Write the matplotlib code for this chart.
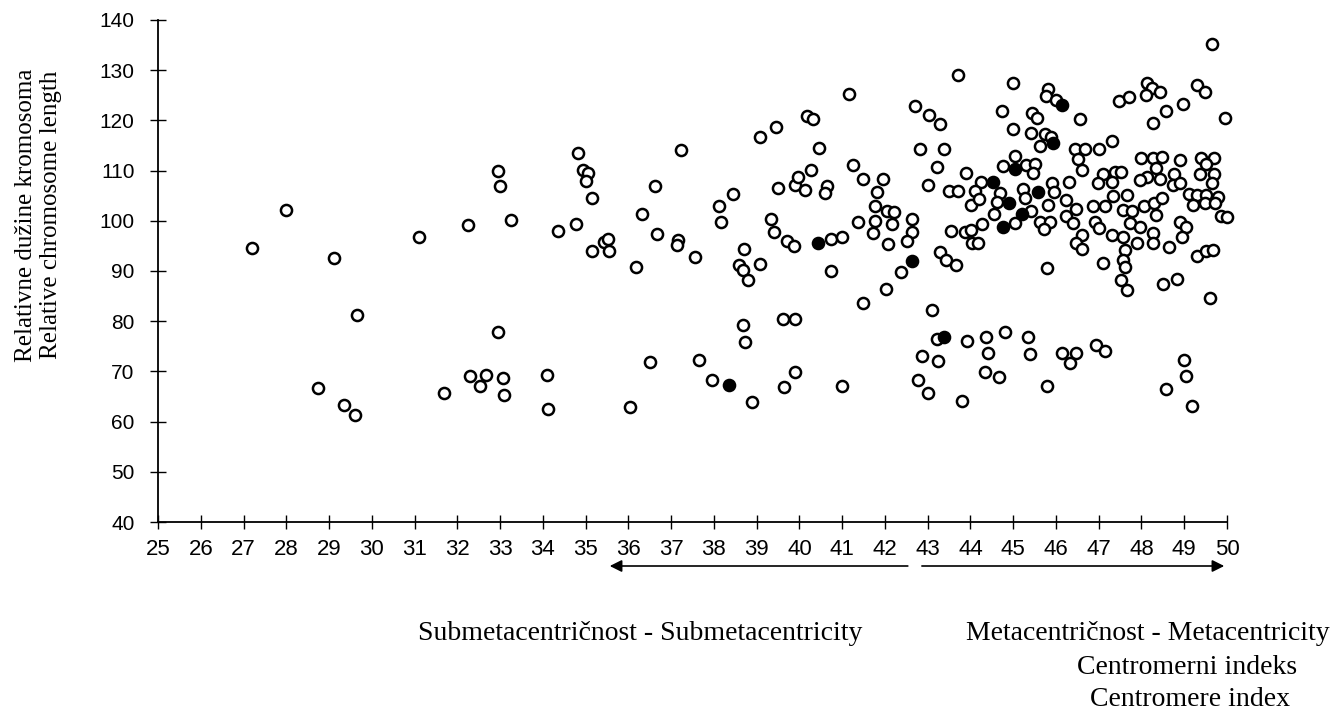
import matplotlib
matplotlib.use("Agg")
import matplotlib.pyplot as plt

# Centromere index (x) and relative chromosome length (y), open circles
open_x = [
    27.19, 28.0, 29.12, 29.65, 31.1, 32.26, 32.94, 33.0, 32.96,
    28.74, 29.35, 29.61, 31.7, 32.29, 32.68, 32.52, 33.06, 33.08, 34.1, 34.12, 36.03,
    34.83, 34.95, 35.06, 35.02, 35.14, 37.23, 36.62, 39.08, 39.45, 38.44, 39.49, 39.9, 39.97,
    33.25, 34.36, 34.78, 35.43, 35.53, 35.16, 35.55, 36.33, 36.19, 36.67, 37.17, 37.14, 37.57,
    38.12, 38.17, 38.71, 38.59, 38.69, 38.8, 39.08, 39.33, 39.41, 39.7, 39.87,
    38.69, 38.72, 39.62, 39.89, 36.5, 37.66, 37.96, 38.88, 39.64, 39.89, 41.0,
    43.72, 41.17, 42.71, 43.04, 43.29, 40.17, 40.31, 44.74, 40.46, 42.81, 43.37, 41.26, 43.21,
    43.9, 40.27, 40.13, 40.65, 40.6, 41.48, 41.95, 41.81, 43.01, 43.51, 43.72, 44.24, 44.11, 44.68,
    41.77, 41.38, 41.77, 41.73, 42.06, 42.21, 42.16, 42.08, 42.64, 42.64, 42.51, 40.75, 41.0,
    40.75, 42.38, 42.03, 41.48, 43.55, 43.87, 44.01, 44.03, 44.18, 44.28, 44.01, 44.21, 44.63,
    44.54, 43.29, 43.44, 43.67, 43.11, 43.21, 42.86, 43.25, 43.93, 44.36, 44.42, 44.81,
    42.78, 43.0, 43.81, 44.33, 44.66,
    49.66, 45.0, 45.82, 45.76, 46.01, 47.48, 47.71, 48.12, 48.24, 48.1, 48.44, 49.29, 49.48,
    48.97, 48.58, 48.27, 49.96, 45.45, 45.55, 46.57, 45.0, 45.41, 45.74, 45.88, 45.63, 46.44,
    46.68, 47.01, 47.3, 46.52, 46.62, 45.04, 44.77, 45.31, 45.51, 45.47, 46.31, 45.24, 45.9,
    45.96, 47.98, 48.26, 48.49, 48.35, 48.12, 48.43, 48.75, 48.89, 49.39, 49.69, 49.51, 49.37,
    49.7, 49.66, 47.1, 47.38, 47.53, 46.99, 47.32, 47.96, 48.73, 48.89, 49.11, 45.28,
    45.04, 45.41, 45.82, 46.23, 46.47, 46.23, 45.63, 45.87, 45.71, 46.39, 46.6, 46.48, 46.6,
    46.91, 47.0, 46.87, 47.15, 47.34, 47.65, 47.57, 47.77, 47.3, 47.56, 47.73, 47.96, 47.89,
    47.61, 47.57, 47.61, 47.09, 45.78, 47.53, 47.65, 48.06, 48.29, 48.49, 48.35, 48.27, 48.27,
    48.65, 48.9, 49.05, 48.94, 49.29, 49.52, 49.79, 49.21, 49.48, 49.71, 49.87, 50.0, 49.29,
    49.52, 49.68, 49.6, 48.51, 48.82, 45.35, 45.39, 46.13, 46.48, 46.33, 46.94, 47.15, 48.99,
    45.78, 49.03, 48.57, 49.17,
]
open_y = [
    94.6, 102.2, 92.5, 81.3, 96.7, 99.1, 109.9, 107.0, 77.8,
    66.6, 63.4, 61.3, 65.7, 69.0, 69.3, 67.0, 68.6, 65.2, 69.3, 62.5, 62.9,
    113.5, 110.2, 109.5, 108.0, 104.5, 114.2, 107.0, 116.6, 118.6, 105.3, 106.5, 107.1, 108.8,
    100.2, 98.0, 99.4, 95.8, 96.3, 94.0, 94.0, 101.3, 90.8, 97.3, 96.2, 95.2, 92.7,
    103.0, 99.8, 94.3, 91.2, 90.2, 88.3, 91.4, 100.3, 97.7, 96.0, 95.0,
    79.2, 75.9, 80.5, 80.5, 71.9, 72.3, 68.2, 64.0, 66.8, 69.9, 67.1,
    129.0, 125.2, 122.9, 121.0, 119.2, 120.8, 120.3, 121.9, 114.6, 114.3, 114.3, 111.1, 110.7,
    109.5, 110.1, 106.1, 107.0, 105.5, 108.3, 108.3, 105.7, 107.1, 106.0, 106.0, 107.8, 106.0, 105.5,
    102.9, 99.7, 100.0, 97.5, 102.0, 101.7, 99.3, 95.3, 100.3, 97.7, 96.0, 96.3, 96.7,
    90.0, 89.9, 86.5, 83.7, 98.0, 97.8, 98.2, 95.5, 95.6, 99.3, 103.1, 104.3, 103.8,
    101.3, 93.8, 92.1, 91.2, 82.2, 76.4, 73.1, 72.1, 76.1, 76.9, 73.6, 77.9,
    68.2, 65.7, 64.2, 69.9, 68.9,
    135.2, 127.5, 126.2, 124.9, 124.1, 123.9, 124.6, 127.5, 126.4, 125.1, 125.6, 127.1, 125.6,
    123.3, 121.9, 119.4, 120.4, 121.5, 120.5, 120.3, 118.2, 117.4, 117.3, 116.6, 114.9, 114.4,
    114.4, 114.4, 115.8, 112.3, 110.1, 112.9, 111.0, 111.1, 111.3, 109.5, 107.7, 106.3, 107.5,
    105.8, 112.5, 112.6, 112.8, 110.6, 108.8, 108.3, 109.3, 112.2, 112.6, 112.6, 111.3, 109.3,
    109.3, 107.6, 109.3, 109.8, 109.8, 107.6, 107.8, 108.1, 107.1, 107.5, 105.3, 104.5,
    99.5, 102.0, 103.1, 104.1, 102.3, 101.0, 99.8, 99.8, 98.3, 99.6, 97.2, 95.6, 94.3,
    99.8, 98.5, 102.9, 102.9, 104.9, 105.1, 102.2, 102.0, 97.2, 96.8, 99.5, 98.8, 95.5,
    94.2, 92.2, 90.7, 91.5, 90.5, 88.2, 86.2, 102.9, 103.5, 104.5, 101.2, 97.5, 95.5,
    94.7, 99.8, 98.8, 96.8, 105.1, 105.1, 104.8, 103.1, 103.5, 103.5, 101.0, 100.8, 92.9,
    93.9, 94.1, 84.6, 87.4, 88.4, 76.8, 73.5, 73.6, 73.6, 71.6, 75.3, 74.1, 72.3,
    67.0, 69.1, 66.4, 63.1,
]

# filled circles
filled_x = [38.36, 40.44, 42.64, 43.37, 44.52, 44.75, 44.9, 45.2, 45.04, 45.59, 45.94, 46.15]
filled_y = [67.2, 95.6, 91.9, 76.8, 107.7, 98.7, 103.5, 101.3, 110.3, 105.7, 115.4, 123.1]

x_ticks = list(range(25, 51))
y_ticks = list(range(40, 141, 10))

fig = plt.figure(figsize=(13.41, 7.14), dpi=100)
ax = fig.add_axes([158 / 1341, 1 - 522 / 714, (1227 - 158) / 1341, (522 - 20) / 714])

ax.plot(open_x, open_y, 'o', ls='none', ms=8, mfc='white', mec='black', mew=1.8, clip_on=False)
ax.plot(filled_x, filled_y, 'o', ls='none', ms=8, mfc='black', mec='black', mew=1.8, clip_on=False)

ax.set_xlim(25, 50)
ax.set_ylim(40, 140)
ax.set_xticks(x_ticks)
ax.set_yticks(y_ticks)
ax.spines['top'].set_visible(False)
ax.spines['right'].set_visible(False)
ax.spines['left'].set_linewidth(1.3)
ax.spines['bottom'].set_linewidth(1.3)
ax.tick_params(axis='y', direction='inout', length=12, width=1, pad=11, labelsize=15)
ax.tick_params(axis='x', direction='inout', length=10, width=1, pad=7, labelsize=16)
for lab in ax.get_xticklabels():
    lab.set_family(['Liberation Sans Narrow', 'Liberation Sans'])
for lab in ax.get_yticklabels():
    lab.set_family(['Liberation Sans', 'DejaVu Sans'])

serif = ['Liberation Serif', 'DejaVu Serif']
fig.text(26 / 1341, 1 - 215 / 714, 'Relativne dužine kromosoma', rotation=90,
         ha='center', va='center', fontsize=18, family=serif)
fig.text(51 / 1341, 1 - 215 / 714, 'Relative chromosome length', rotation=90,
         ha='center', va='center', fontsize=18, family=serif)

# two arrows under the axis
arrow_y = 1 - 566 / 714
arrow_style = dict(arrowstyle='-|>', color='black', lw=1.2, mutation_scale=18)
ax.annotate('', xy=(35.5, arrow_y), xycoords=('data', 'figure fraction'),
            xytext=(42.6, arrow_y), textcoords=('data', 'figure fraction'),
            arrowprops=arrow_style, annotation_clip=False)
ax.annotate('', xy=(50, arrow_y), xycoords=('data', 'figure fraction'),
            xytext=(42.8, arrow_y), textcoords=('data', 'figure fraction'),
            arrowprops=arrow_style, annotation_clip=False)

fig.text(418 / 1341, 1 - 634 / 714, 'Submetacentričnost - Submetacentricity',
         ha='left', va='center', fontsize=20, family=serif)
fig.text(1330 / 1341, 1 - 634 / 714, 'Metacentričnost - Metacentricity',
         ha='right', va='center', fontsize=20, family=serif)
fig.text(1187 / 1341, 1 - 668 / 714, 'Centromerni indeks',
         ha='center', va='center', fontsize=20, family=serif)
fig.text(1190 / 1341, 1 - 700 / 714, 'Centromere index',
         ha='center', va='center', fontsize=20, family=serif)

fig.savefig('out.png', dpi=100)
